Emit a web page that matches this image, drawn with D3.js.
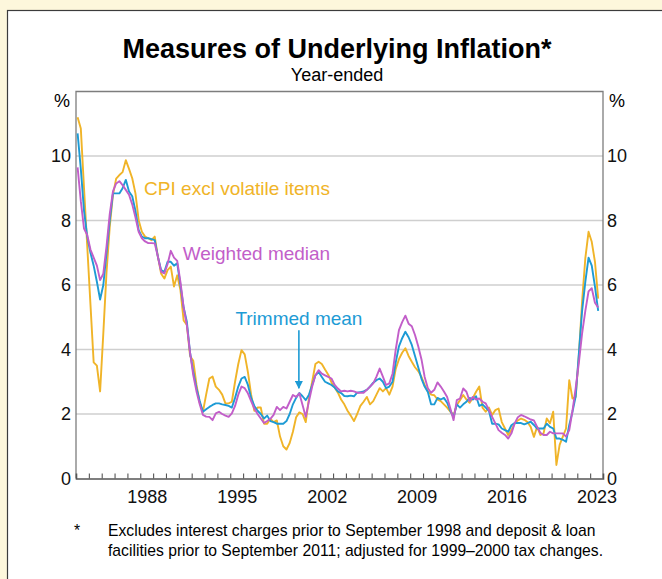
<!DOCTYPE html>
<html>
<head>
<meta charset="utf-8">
<script src="https://cdn.jsdelivr.net/npm/d3@7"></script>
<style>
  body { margin: 0; background: #fdf7dc; }
  svg { display: block; font-family: "Liberation Sans", Arial, sans-serif; }
</style>
</head>
<body>
<svg width="662" height="579"></svg>
<script>
// **** Data (year-ended %, quarterly from 1983 Q1 to 2023 Q3) ****

var startYear = 1983;

var cpiExclVolatile = [
    11.2, 10.85, 9.0, 7.2,    5.4, 3.6, 3.5, 2.7,      4.5, 6.4, 7.8, 8.8,
    9.3, 9.41, 9.5, 9.87,     9.6, 9.31, 8.84, 8.01,   7.65, 7.5, 7.45, 7.39,
    7.5, 6.87, 6.35, 6.2,     6.46, 6.57, 5.95, 6.3,   5.84, 4.9, 4.76, 3.8,
    3.65, 2.9, 2.35, 2.07,    2.6, 3.1, 3.16, 2.85,    2.75, 2.6, 2.33, 2.33,
    2.38, 3.0, 3.55, 3.98,    3.85, 3.3, 2.6, 2.1,     2.2, 2.2, 1.7, 1.7,
    1.85, 1.75, 1.8, 1.3,     1.0, 0.9, 1.1, 1.45,     1.9, 2.05, 2.0, 1.75,
    2.5, 3.0, 3.55, 3.62,     3.55, 3.38, 3.22, 2.98,  2.82, 2.66, 2.45, 2.3,
    2.1, 1.95, 1.78, 2.0,     2.25, 2.38, 2.53, 2.3,   2.4, 2.6, 2.8, 2.7,
    2.8, 2.6, 2.85, 3.4,      3.7, 3.9, 4.04, 3.8,     3.62, 3.45, 3.33, 3.15,
    2.9, 2.7, 2.6, 2.58,      2.45, 2.4, 2.3, 2.2,     2.07, 1.97, 2.28, 2.43,
    2.59, 2.45, 2.35, 2.5,    2.69, 2.85, 2.2, 2.07,   2.2, 1.97, 2.12, 2.17,
    1.75, 1.55, 1.35, 1.5,    1.7, 1.8, 1.86, 1.82,    1.75, 1.6, 1.29, 1.6,
    1.35, 1.4, 1.86, 1.71,    2.07, 0.42, 1.04, 1.3,   1.55, 3.05, 2.48, 2.53,
    3.83, 5.5, 6.83, 7.65,    7.34, 6.72, 5.58
];

var trimmedMean = [
    10.7, 9.6, 8.3, 7.5,      7.0, 6.6, 6.1, 5.55,     6.0, 7.0, 8.0, 8.84,
    8.84, 8.84, 9.0, 9.26,    8.9, 8.75, 8.3, 7.7,     7.5, 7.45, 7.45, 7.42,
    7.39, 6.87, 6.46, 6.41,   6.72, 6.72, 6.6, 6.67,   6.0, 5.3, 4.86, 3.9,
    3.3, 2.8, 2.4, 2.07,      2.15, 2.22, 2.28, 2.33,  2.33, 2.3, 2.28, 2.25,
    2.2, 2.5, 2.85, 3.1,      3.15, 2.9, 2.5, 2.25,    2.1, 2.0, 1.86, 1.95,
    1.78, 1.75, 1.7, 1.7,     1.7, 1.78, 2.0, 2.3,     2.5, 2.65, 2.55, 2.43,
    2.6, 2.9, 3.2, 3.3,       3.15, 3.0, 2.95, 2.9,    2.82, 2.7, 2.65, 2.56,
    2.55, 2.57, 2.55, 2.66,   2.68, 2.7, 2.75, 2.85,   2.97, 3.05, 3.1, 3.0,
    2.8, 2.85, 3.0, 3.6,      4.1, 4.35, 4.55, 4.38,   4.14, 3.8, 3.45, 3.1,
    2.85, 2.68, 2.3, 2.3,     2.5, 2.45, 2.5, 2.35,    2.1, 1.9, 2.3, 2.2,
    2.3, 2.38, 2.5, 2.45,     2.55, 2.25, 2.3, 2.2,    2.1, 1.7, 1.7, 1.68,
    1.55, 1.5, 1.45, 1.65,    1.72, 1.72, 1.72, 1.68,  1.72, 1.76, 1.66, 1.55,
    1.55, 1.55, 1.7, 1.6,     1.55, 1.24, 1.24, 1.2,   1.14, 1.66, 2.07, 2.55,
    3.9, 5.2, 6.1, 6.85,      6.6, 5.95, 5.2
];

var weightedMedian = [
    9.65, 8.6, 7.75, 7.55,    7.1, 6.85, 6.6, 6.15,    6.35, 7.2, 8.2, 8.9,
    9.15, 9.22, 9.1, 8.95,    8.8, 8.5, 8.1, 7.65,     7.45, 7.35, 7.3, 7.3,
    7.29, 6.87, 6.41, 6.36,   6.65, 7.06, 6.85, 6.75,  6.1, 5.3, 4.75, 3.9,
    3.2, 2.7, 2.3, 1.97,      1.92, 1.91, 1.81, 2.02,  2.07, 2.0, 1.95, 1.91,
    2.02, 2.25, 2.6, 2.85,    2.8, 2.64, 2.4, 2.17,    2.0, 1.86, 1.72, 1.78,
    1.85, 1.97, 2.22, 2.12,   2.22, 2.17, 2.38, 2.59,  2.53, 2.64, 2.28, 1.91,
    2.4, 2.85, 3.2, 3.36,     3.25, 3.2, 3.15, 3.1,    2.9, 2.79, 2.7, 2.72,
    2.7, 2.72, 2.7, 2.66,     2.66, 2.66, 2.75, 2.85,  2.95, 3.16, 3.41, 3.16,
    2.9, 2.95, 3.25, 4.0,     4.6, 4.85, 5.05, 4.8,    4.72, 4.45, 4.1, 3.7,
    3.15, 2.8, 2.66, 2.75,    2.98, 2.85, 2.7, 2.53,   2.17, 1.81, 2.43, 2.48,
    2.79, 2.69, 2.4, 2.53,    2.45, 2.48, 2.38, 2.33,  2.12, 1.91, 1.71, 1.5,
    1.42, 1.35, 1.24, 1.4,    1.71, 1.9, 1.97, 1.93,   1.88, 1.83, 1.8, 1.6,
    1.42, 1.35, 1.35, 1.45,   1.4, 1.4, 1.4, 1.4,      1.3, 1.5, 2.1, 2.8,
    3.6, 4.5, 5.2, 5.8,       5.9, 5.45, 5.3
];

var yTicks = [0, 2, 4, 6, 8, 10];
var gridValues = [2, 4, 6, 8, 10];
var labelYears = [1988, 1995, 2002, 2009, 2016, 2023];
var tickYears = d3.range(1984, 2024);

var colours = { cpi: '#f0b428', trimmed: '#1d9bd5', median: '#c25ec9' };

// **** Scales ****

var x = d3.scaleLinear().domain([1983, 2024]).range([76, 603]);
var y = d3.scaleLinear().domain([0, 12]).range([478.5, 91.5]);

function quarterDate(i) {
    return startYear + i / 4 + 0.125;   // middle of the quarter
}

var svg = d3.select('svg');

// white panel with border
svg.append('rect')
    .attr('x', 7.5).attr('y', 10.5)
    .attr('width', 700).attr('height', 620)
    .attr('fill', '#ffffff')
    .attr('stroke', '#3c3c3c')
    .attr('stroke-width', 1.2);

// Title
svg.append('text')
    .attr('x', 337).attr('y', 58)
    .style('text-anchor', 'middle')
    .style('font-size', '27px')
    .style('font-weight', 'bold')
    .text('Measures of Underlying Inflation*');

svg.append('text')
    .attr('x', 337).attr('y', 81)
    .style('text-anchor', 'middle')
    .style('font-size', '18px')
    .text('Year-ended');

// gridlines
svg.append('g').selectAll('line')
    .data(gridValues)
    .enter().append('line')
    .attr('x1', x.range()[0]).attr('x2', x.range()[1])
    .attr('y1', function(d) { return y(d); })
    .attr('y2', function(d) { return y(d); })
    .attr('stroke', '#cfcfcf')
    .attr('stroke-width', 1.6);

// frame: top, left and right
svg.append('path')
    .attr('d', 'M' + x(1983) + ',' + y(0) + 'V' + y(12) + 'H' + x(2024) + 'V' + y(0))
    .attr('fill', 'none')
    .attr('stroke', '#7d7d7d')
    .attr('stroke-width', 1.3);

// y axes, left and right
var leftAxis = svg.append('g')
    .attr('transform', 'translate(' + x(1983) + ',0)')
    .call(d3.axisLeft(y).tickValues(yTicks).tickSize(0).tickPadding(5));
var rightAxis = svg.append('g')
    .attr('transform', 'translate(' + x(2024) + ',0)')
    .call(d3.axisRight(y).tickValues(yTicks).tickSize(0).tickPadding(4));

[leftAxis, rightAxis].forEach(function(g) {
    g.select('.domain').remove();
    g.selectAll('text')
        .style('font-size', '18px')
        .style('font-family', '"Liberation Sans", Arial, sans-serif')
        .attr('fill', '#111');
});

svg.append('text').attr('x', 70).attr('y', 107)
    .style('text-anchor', 'end').style('font-size', '18px').text('%');
svg.append('text').attr('x', 609).attr('y', 107)
    .style('font-size', '18px').text('%');

// x axis with yearly ticks pointing up
var xTickAxis = svg.append('g')
    .attr('transform', 'translate(0,' + y(0) + ')')
    .call(d3.axisBottom(x).tickValues(tickYears).tickSize(-5).tickFormat(''));
xTickAxis.select('.domain').attr('stroke', '#555').attr('stroke-width', 1.6);
xTickAxis.selectAll('.tick line').attr('stroke', '#555').attr('stroke-width', 1.1);

var xLabelAxis = svg.append('g')
    .attr('transform', 'translate(0,' + y(0) + ')')
    .call(d3.axisBottom(x)
        .tickValues(labelYears.map(function(d) { return d + 0.5; }))
        .tickSize(0).tickPadding(12)
        .tickFormat(function(d) { return String(Math.floor(d)); }));
xLabelAxis.select('.domain').remove();
xLabelAxis.selectAll('text')
    .style('font-size', '18px')
    .style('font-family', '"Liberation Sans", Arial, sans-serif')
    .attr('fill', '#111');

// **** Series lines ****

var line = d3.line()
    .x(function(d, i) { return x(quarterDate(i)); })
    .y(function(d) { return y(d); });

var series = [
    { values: cpiExclVolatile, colour: colours.cpi },
    { values: trimmedMean, colour: colours.trimmed },
    { values: weightedMedian, colour: colours.median }
];

svg.append('g').selectAll('path')
    .data(series)
    .enter().append('path')
    .attr('d', function(d) { return line(d.values); })
    .attr('fill', 'none')
    .attr('stroke', function(d) { return d.colour; })
    .attr('stroke-width', 1.9)
    .attr('stroke-linejoin', 'round');

// **** Series labels ****

svg.append('text')
    .attr('x', x(1988.3)).attr('y', 195)
    .style('font-size', '19px')
    .attr('fill', colours.cpi)
    .text('CPI excl volatile items');

svg.append('text')
    .attr('x', x(1991.3)).attr('y', 260)
    .style('font-size', '19px')
    .attr('fill', colours.median)
    .text('Weighted median');

svg.append('text')
    .attr('x', x(1995.4)).attr('y', 325)
    .style('font-size', '19px')
    .attr('fill', colours.trimmed)
    .text('Trimmed mean');

// arrow pointing at trimmed mean
svg.append('defs').append('marker')
    .attr('id', 'arrowhead')
    .attr('viewBox', '0 0 10 10')
    .attr('refX', 9).attr('refY', 5)
    .attr('markerWidth', 5).attr('markerHeight', 5)
    .attr('orient', 'auto')
    .append('path')
    .attr('d', 'M0,0L10,5L0,10z')
    .attr('fill', colours.trimmed);

svg.append('line')
    .attr('x1', x(2000.34)).attr('x2', x(2000.34))
    .attr('y1', y(4.6)).attr('y2', y(2.8))
    .attr('stroke', colours.trimmed)
    .attr('stroke-width', 1.6)
    .attr('marker-end', 'url(#arrowhead)');

// **** Footnote ****

svg.append('text').attr('x', 74).attr('y', 536)
    .style('font-size', '15.7px').text('*');

svg.append('text').attr('x', 108).attr('y', 536)
    .style('font-size', '15.7px')
    .text('Excludes interest charges prior to September 1998 and deposit & loan');

svg.append('text').attr('x', 108).attr('y', 556)
    .style('font-size', '15.7px')
    .text('facilities prior to September 2011; adjusted for 1999\u20132000 tax changes.');
</script>
</body>
</html>
